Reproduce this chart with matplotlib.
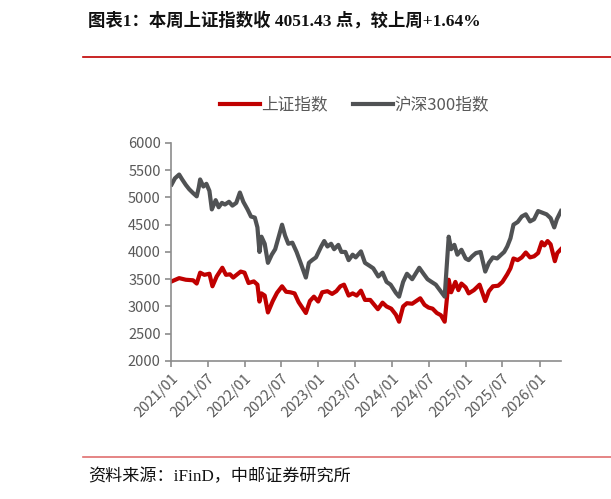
import matplotlib
matplotlib.use('Agg')
import matplotlib.pyplot as plt
import matplotlib.dates as mdates
import pandas as pd

plt.rcParams['font.family'] = ['Noto Sans CJK SC', 'DejaVu Sans']

# 沪深300 (gray)
hs300_dates = [
    '2021-01-04', '2021-01-20', '2021-02-10', '2021-02-25', '2021-03-15', '2021-04-01',
    '2021-04-20', '2021-05-08', '2021-05-18', '2021-05-25', '2021-06-10', '2021-06-25',
    '2021-07-10', '2021-07-22', '2021-08-10', '2021-08-25', '2021-09-10', '2021-09-25',
    '2021-10-15', '2021-11-01', '2021-11-20', '2021-12-08', '2021-12-25', '2022-01-15',
    '2022-02-01', '2022-02-20', '2022-03-05', '2022-03-15', '2022-03-25', '2022-04-10',
    '2022-04-26', '2022-05-15', '2022-06-01', '2022-06-20', '2022-07-05', '2022-07-20',
    '2022-08-05', '2022-08-25', '2022-09-15', '2022-10-05', '2022-10-31', '2022-11-15',
    '2022-12-01', '2022-12-20', '2023-01-15', '2023-01-30', '2023-02-15', '2023-03-05',
    '2023-03-20', '2023-04-10', '2023-04-25', '2023-05-15', '2023-05-31', '2023-06-20',
    '2023-07-05', '2023-07-31', '2023-08-20', '2023-09-10', '2023-09-30', '2023-10-25',
    '2023-11-15', '2023-12-05', '2023-12-25', '2024-01-20', '2024-02-05', '2024-02-25',
    '2024-03-15', '2024-04-10', '2024-05-15', '2024-06-05', '2024-06-25', '2024-07-15',
    '2024-08-05', '2024-08-25', '2024-09-18', '2024-10-08', '2024-10-20', '2024-11-05',
    '2024-11-20', '2024-12-10', '2024-12-31', '2025-01-15', '2025-02-01', '2025-02-20',
    '2025-03-15', '2025-04-07', '2025-04-25', '2025-05-15', '2025-06-05', '2025-06-25',
    '2025-07-10', '2025-07-25', '2025-08-10', '2025-08-25', '2025-09-15', '2025-10-05',
    '2025-10-25', '2025-11-15', '2025-12-05', '2025-12-25', '2026-01-15', '2026-02-05',
    '2026-02-25', '2026-03-15', '2026-03-28', '2026-04-17',
]
hs300_values = [
    5240, 5350, 5420, 5330, 5230, 5150,
    5080, 5020, 5180, 5330, 5200, 5250,
    5120, 4780, 4950, 4820, 4900, 4870,
    4920, 4850, 4900, 5090, 4920, 4780,
    4650, 4630, 4450, 4000, 4280, 4150,
    3800, 3950, 4050, 4300, 4500, 4300,
    4150, 4170, 4000, 3800, 3530, 3800,
    3850, 3900, 4100, 4200, 4100, 4150,
    4050, 4130, 4000, 4000, 3850, 3950,
    3900, 4010, 3800, 3750, 3700, 3550,
    3620, 3450, 3400, 3250, 3180, 3450,
    3600, 3500, 3710, 3600, 3500, 3450,
    3400, 3300, 3180, 4280, 4050, 4130,
    3950, 4040, 3880, 3850, 3920, 3980,
    4000, 3640, 3800, 3900, 3880, 3950,
    4000, 4100, 4250, 4500, 4550, 4650,
    4690, 4560, 4600, 4750, 4720, 4690,
    4620, 4450, 4600, 4750,
]

# 上证指数 (red)
sh_dates = [
    '2021-01-04', '2021-02-10', '2021-03-15', '2021-04-20', '2021-05-08', '2021-05-25',
    '2021-06-15', '2021-07-10', '2021-07-25', '2021-08-15', '2021-09-12', '2021-09-30',
    '2021-10-20', '2021-11-05', '2021-11-25', '2021-12-12', '2021-12-31', '2022-01-20',
    '2022-02-15', '2022-03-05', '2022-03-15', '2022-03-25', '2022-04-10', '2022-04-26',
    '2022-05-20', '2022-06-10', '2022-07-05', '2022-07-25', '2022-08-15', '2022-09-05',
    '2022-09-25', '2022-10-31', '2022-11-20', '2022-12-10', '2022-12-31', '2023-01-20',
    '2023-02-15', '2023-03-10', '2023-03-31', '2023-04-20', '2023-05-08', '2023-05-31',
    '2023-06-20', '2023-07-10', '2023-07-31', '2023-08-20', '2023-09-15', '2023-10-23',
    '2023-11-15', '2023-12-05', '2023-12-28', '2024-01-20', '2024-02-05', '2024-02-25',
    '2024-03-15', '2024-04-10', '2024-05-20', '2024-06-10', '2024-06-30', '2024-07-20',
    '2024-08-10', '2024-08-30', '2024-09-18', '2024-10-08', '2024-10-20', '2024-11-10',
    '2024-11-25', '2024-12-10', '2024-12-31', '2025-01-15', '2025-02-10', '2025-03-10',
    '2025-04-07', '2025-04-25', '2025-05-15', '2025-06-10', '2025-07-01', '2025-07-25',
    '2025-08-10', '2025-08-25', '2025-09-15', '2025-10-05', '2025-10-25', '2025-11-15',
    '2025-12-05', '2025-12-25', '2026-01-12', '2026-01-25', '2026-02-10', '2026-02-25',
    '2026-03-18', '2026-03-30', '2026-04-17',
]
sh_values = [
    3460, 3520, 3490, 3480, 3420, 3620,
    3580, 3600, 3370, 3550, 3710, 3580,
    3590, 3530, 3590, 3640, 3620, 3430,
    3460, 3400, 3090, 3240, 3200, 2890,
    3100, 3250, 3370, 3270, 3260, 3240,
    3080, 2880, 3100, 3180, 3090, 3260,
    3280, 3230, 3280, 3370, 3400, 3200,
    3240, 3200, 3290, 3120, 3120, 2950,
    3070, 3000, 2960, 2850, 2720, 3000,
    3060, 3050, 3150, 3030, 2980, 2960,
    2880, 2840, 2720, 3490, 3260, 3450,
    3300, 3420, 3350, 3240, 3300, 3400,
    3100, 3280, 3370, 3380, 3450, 3590,
    3700, 3880, 3850, 3900, 3990, 3900,
    3920, 3980, 4180, 4120, 4200, 4140,
    3830, 3980, 4050,
]

tick_dates = ['2021-01-01', '2021-07-01', '2022-01-01', '2022-07-01', '2023-01-01', '2023-07-01',
              '2024-01-01', '2024-07-01', '2025-01-01', '2025-07-01', '2026-01-01']

RED = '#C00000'
GRAY = '#505254'
TXT = '#595959'

fig = plt.figure(figsize=(6.11, 4.99), dpi=100)
ax = fig.add_axes([0.280, 0.2766, 0.638, 0.437])

ax.plot(pd.to_datetime(sh_dates), sh_values, color=RED, linewidth=3, label='上证指数')
ax.plot(pd.to_datetime(hs300_dates), hs300_values, color=GRAY, linewidth=3, label='沪深300指数')

ax.set_ylim(2000, 6000)
ax.set_yticks(range(2000, 6001, 500))
ax.set_xlim(pd.Timestamp('2021-01-01'), pd.Timestamp('2026-04-17'))
ax.set_xticks(pd.to_datetime(tick_dates))
ax.xaxis.set_major_formatter(mdates.DateFormatter('%Y/%m'))

for s in ['top', 'right']:
    ax.spines[s].set_visible(False)
for s in ['left', 'bottom']:
    ax.spines[s].set_color('#8C8C8C')
    ax.spines[s].set_linewidth(1.2)
ax.tick_params(axis='both', colors='#8C8C8C', labelcolor=TXT, labelsize=10.5, length=4, width=1.2)
plt.setp(ax.get_xticklabels(), rotation=45, ha='right', rotation_mode='anchor')

ax.legend(loc='lower center', bbox_to_anchor=(0.47, 1.065), ncol=2, frameon=False,
          fontsize=12, labelcolor=TXT, handlelength=2.4, handletextpad=0.1, columnspacing=1.5)

# title and source
fig.text(88 / 611, 1 - 21 / 499, '图表1：本周上证指数收 4051.43 点，较上周+1.64%', fontsize=12.5, fontweight='bold',
         family=['Liberation Serif', 'Noto Sans CJK SC'], ha='left', va='center', color='#111111')
fig.add_artist(plt.Line2D([83 / 611, 1.0], [1 - 57 / 499, 1 - 57 / 499], color=RED, linewidth=1.2,
                          transform=fig.transFigure))
fig.add_artist(plt.Line2D([83 / 611, 1.0], [1 - 457 / 499, 1 - 457 / 499], color='#E07070', linewidth=1.2,
                          transform=fig.transFigure))
fig.text(88 / 611, 1 - 477 / 499, '资料来源：iFinD，中邮证券研究所', fontsize=12.3,
         family=['Liberation Serif', 'Noto Sans CJK SC'], ha='left', va='center', color='#111111')

fig.savefig('out.png', dpi=100)
